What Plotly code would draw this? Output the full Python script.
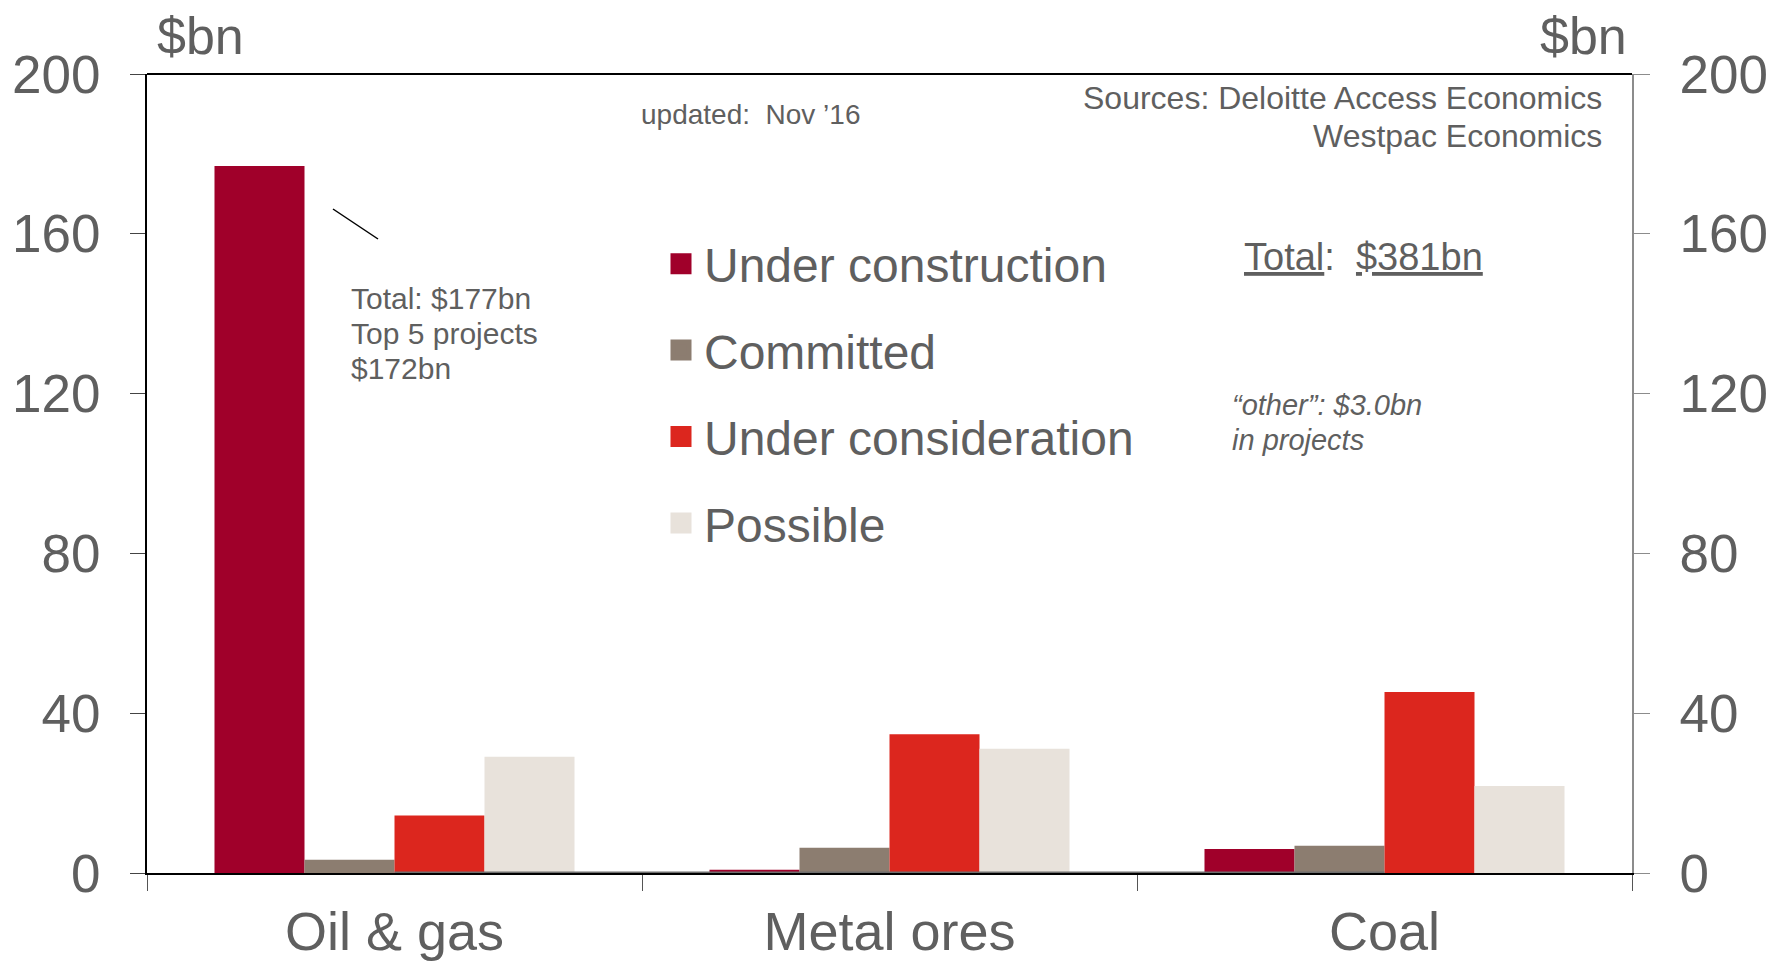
import plotly.graph_objects as go

# Investment pipeline by sector, $bn
categories = ["Oil & gas", "Metal ores", "Coal"]
under_construction = [177, 0.8, 6.0]
committed = [3.3, 6.3, 6.8]
under_consideration = [14.4, 34.7, 45.3]
possible = [29.1, 31.1, 21.8]

series_names = ["Under construction", "Committed", "Under consideration", "Possible"]
series_values = [under_construction, committed, under_consideration, possible]
series_colors = ["#A0002A", "#8C7D70", "#DC261E", "#E8E2DB"]

y_ticks = [0, 40, 80, 120, 160, 200]

W, H = 1771, 963
L, R, T, B = 147, 1632, 74, 873
TEXT = "#5f5f5f"
FONT = "Liberation Sans, Arial, sans-serif"


def px(x):
    return (x - L) / (R - L)


def py(y):
    return (B - y) / (B - T)


fig = go.Figure()

for name, vals, col in zip(series_names, series_values, series_colors):
    fig.add_trace(go.Bar(
        x=categories, y=vals, name=name, marker=dict(color=col, line=dict(width=0)),
        showlegend=False, hoverinfo="x+y+name",
    ))

# legend swatches
for i, (name, col) in enumerate(zip(series_names, series_colors)):
    fig.add_trace(go.Scatter(
        x=[None], y=[None], mode="markers", name=name, legendgroup=f"g{i}",
        marker=dict(symbol="square", size=16, color=col, line=dict(color=col, width=5)),
        showlegend=True,
    ))

fig.update_layout(
    width=W, height=H,
    margin=dict(l=L, r=W - R, t=T, b=H - B, pad=0, autoexpand=False),
    paper_bgcolor="white", plot_bgcolor="white",
    font=dict(family=FONT, color=TEXT),
    barmode="group", bargap=0.2727, bargroupgap=0,
    showlegend=True,
    legend=dict(
        x=px(658), y=py(226), xanchor="left", yanchor="top",
        font=dict(size=48, color=TEXT, family=FONT),
        bgcolor="rgba(0,0,0,0)", borderwidth=0,
        tracegroupgap=21, itemwidth=36, traceorder="grouped",
    ),
    xaxis=dict(
        type="category", categoryorder="array", categoryarray=categories,
        range=[-0.5, 2.5], tickson="boundaries", automargin=False,
        ticks="outside", ticklen=16, tickwidth=1, tickcolor="#555555",
        showline=True, linecolor="black", linewidth=2,
        showgrid=False, zeroline=False,
        tickfont=dict(size=54, color=TEXT, family=FONT),
        ticklabelstandoff=10,
    ),
    yaxis=dict(
        range=[0, 200], tickvals=y_ticks, ticktext=[str(v) for v in y_ticks],
        automargin=False,
        ticks="outside", ticklen=15, tickwidth=1, tickcolor="#444444",
        showline=True, linecolor="black", linewidth=2,
        showgrid=False, zeroline=False,
        tickfont=dict(size=53, color=TEXT, family=FONT),
        ticklabelstandoff=19,
    ),
    yaxis2=dict(
        overlaying="y", side="right", anchor="x", automargin=False,
        range=[0, 200], tickvals=y_ticks, ticktext=[str(v) for v in y_ticks],
        ticks="outside", ticklen=16, tickwidth=1, tickcolor="#8c8c8c",
        showline=True, linecolor="#8c8c8c", linewidth=2,
        showgrid=False, zeroline=False,
        tickfont=dict(size=53, color=TEXT, family=FONT),
        ticklabelstandoff=19,
    ),
)

# keep the right-hand axis alive with an invisible trace
fig.add_trace(go.Scatter(x=[categories[0]], y=[0], yaxis="y2", mode="markers",
                         marker=dict(opacity=0), showlegend=False, hoverinfo="skip"))

shapes = [
    # top border of the plot frame
    dict(type="line", xref="paper", yref="paper", x0=0, x1=1, y0=1, y1=1,
         line=dict(color="black", width=2)),
    # grey section of the baseline
    dict(type="line", xref="x", yref="y", x0=0, x1=2, y0=0, y1=0,
         line=dict(color="#6e6e6e", width=3)),
    # leader line to the oil & gas note
    dict(type="line", xref="paper", yref="paper", x0=px(333), y0=py(209), x1=px(378), y1=py(239),
         line=dict(color="black", width=1.5)),
]
fig.update_layout(shapes=shapes)


def note(text, x, y, size, xanchor="left", italic=False):
    fig.add_annotation(
        text=f"<i>{text}</i>" if italic else text,
        xref="paper", yref="paper", x=px(x), y=py(y),
        xanchor=xanchor, yanchor="middle", showarrow=False,
        font=dict(size=size, color=TEXT, family=FONT), borderpad=0,
    )


note("$bn", 156, 36, 52)
note("$bn", 1628, 36, 52, xanchor="right")
note("updated:  Nov \u201916", 640, 114, 28)
note("Sources: Deloitte Access Economics", 1603, 98, 32, xanchor="right")
note("Westpac Economics", 1603, 136, 32, xanchor="right")
note("<span style='text-decoration:underline'>Total</span>:  "
     "<span style='text-decoration:underline'>$381bn</span>", 1243, 257, 38)
note("\u201cother\u201d: $3.0bn", 1231, 405, 29, italic=True)
note("in projects", 1231, 440, 29, italic=True)
note("Total: $177bn", 350, 298, 30)
note("Top 5 projects", 350, 333, 30)
note("$172bn", 350, 368, 30)

fig.write_html("out.html")
